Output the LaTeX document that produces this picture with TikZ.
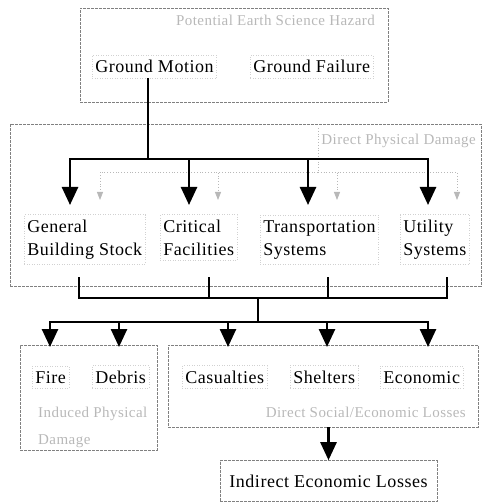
\documentclass[tikz,border=0pt]{standalone}
\usepackage{fontspec}
\setmainfont{Liberation Serif}[LetterSpace=3]
\usetikzlibrary{arrows.meta}
\begin{document}
\begin{tikzpicture}[x=1pt,y=-1pt,
  txt/.style={font=\fontsize{18}{23}\selectfont, align=left, inner xsep=3pt, inner ysep=5pt, draw=black!18, dotted, line width=0.5pt},
  grp/.style={draw=black!50, dash pattern=on 3pt off 1pt, line width=0.6pt},
  glbl/.style={text=black!28, font=\fontsize{15}{27}\selectfont, align=left, inner sep=0pt},
  flow/.style={line width=2.6pt},
  arr/.style={flow, -{Triangle[width=16pt,length=18pt]}},
  gline/.style={draw=black!28, dotted, line width=0.8pt},
  garr/.style={gline, -{Triangle[width=6pt,length=8pt,fill=black!28]}}
]
\useasboundingbox (0,0) rectangle (483,502);

% group boxes
\node[grp, minimum width=308pt, minimum height=94pt] (hazard) at (234,55) {};
\node[grp, minimum width=471pt, minimum height=162pt] (physical) at (245.5,205) {};
\node[grp, minimum width=137pt, minimum height=105pt] (induced) at (88.5,397.5) {};
\node[grp, minimum width=310pt, minimum height=82pt] (social) at (323,386) {};

% group labels
\node[glbl, anchor=base east] (lhaz) at (375,26) {Potential Earth Science Hazard};
\node[glbl, anchor=base east] (lphys) at (476,145) {Direct Physical Damage};
\node[glbl, anchor=base west] (lind) at (38,444) {Induced Physical\\Damage};
\node[glbl, anchor=base east] (lsoc) at (466,417) {Direct Social/Economic Losses};

% top row
\node[txt, anchor=base west] (gm) at (92,73) {Ground Motion};
\node[txt, anchor=base west] (gf) at (250,73) {Ground Failure};

% components (base = last line)
\node[txt, anchor=base west] (gbs) at (24,255) {General\\Building Stock};
\node[txt, anchor=base west] (cf) at (160,255) {Critical\\Facilities};
\node[txt, anchor=base west] (ts) at (260,255) {Transportation\\Systems};
\node[txt, anchor=base west] (us) at (400,255) {Utility\\Systems};

% losses
\node[txt, anchor=base west] (fire) at (32,383) {Fire};
\node[txt, anchor=base west] (debris) at (92,383) {Debris};
\node[txt, anchor=base west] (cas) at (182,383) {Casualties};
\node[txt, anchor=base west] (shel) at (290,383) {Shelters};
\node[txt, anchor=base west] (econ) at (380,383) {Economic};

\node[grp, font=\fontsize{18}{23}\selectfont, minimum width=217pt, minimum height=41pt] (indirect) at (328.5,481) {Indirect Economic Losses};

% faint gray connectors from ground failure
\coordinate (gtop) at (318,128);
\coordinate (gj) at (318,172);
\coordinate (g1) at (100,200);
\coordinate (g2) at (218,200);
\coordinate (g3) at (337,200);
\coordinate (g4) at (457,200);
\draw[gline] (gtop) -- (gj);
\draw[garr] (gj) -| (g1);
\draw[garr] (gj) -| (g2);
\draw[garr] (gj) -| (g3);
\draw[garr] (gj) -| (g4);

% ground motion to components
\coordinate (j1) at (148,159);
\coordinate (a1) at (70,205);
\coordinate (a2) at (189,205);
\coordinate (a3) at (308,205);
\coordinate (a4) at (428,205);
\draw[flow] (gm.south -| j1) -- (j1);
\draw[arr] (j1) -| (a1);
\draw[arr] (j1) -| (a2);
\draw[arr] (j1) -| (a3);
\draw[arr] (j1) -| (a4);

% components to losses
\coordinate (b1) at (79,277);
\coordinate (b2) at (209,277);
\coordinate (b3) at (328,277);
\coordinate (b4) at (447,277);
\coordinate (m) at (258,298);
\coordinate (n) at (258,322);
\draw[flow] (b1) |- (m) -| (b4);
\draw[flow] (b2) -- (b2 |- m);
\draw[flow] (b3) -- (b3 |- m);
\draw[flow] (m) -- (n);
\coordinate (c1) at (50,347);
\coordinate (c2) at (119,347);
\coordinate (c3) at (228,347);
\coordinate (c4) at (327,347);
\coordinate (c5) at (428,347);
\draw[arr] (n) -| (c1);
\draw[arr] (n) -| (c2);
\draw[arr] (n) -| (c3);
\draw[arr] (n) -| (c4);
\draw[arr] (n) -| (c5);

% to indirect losses
\draw[arr] (indirect.north |- social.south) -- (indirect.north);
\end{tikzpicture}
\end{document}
